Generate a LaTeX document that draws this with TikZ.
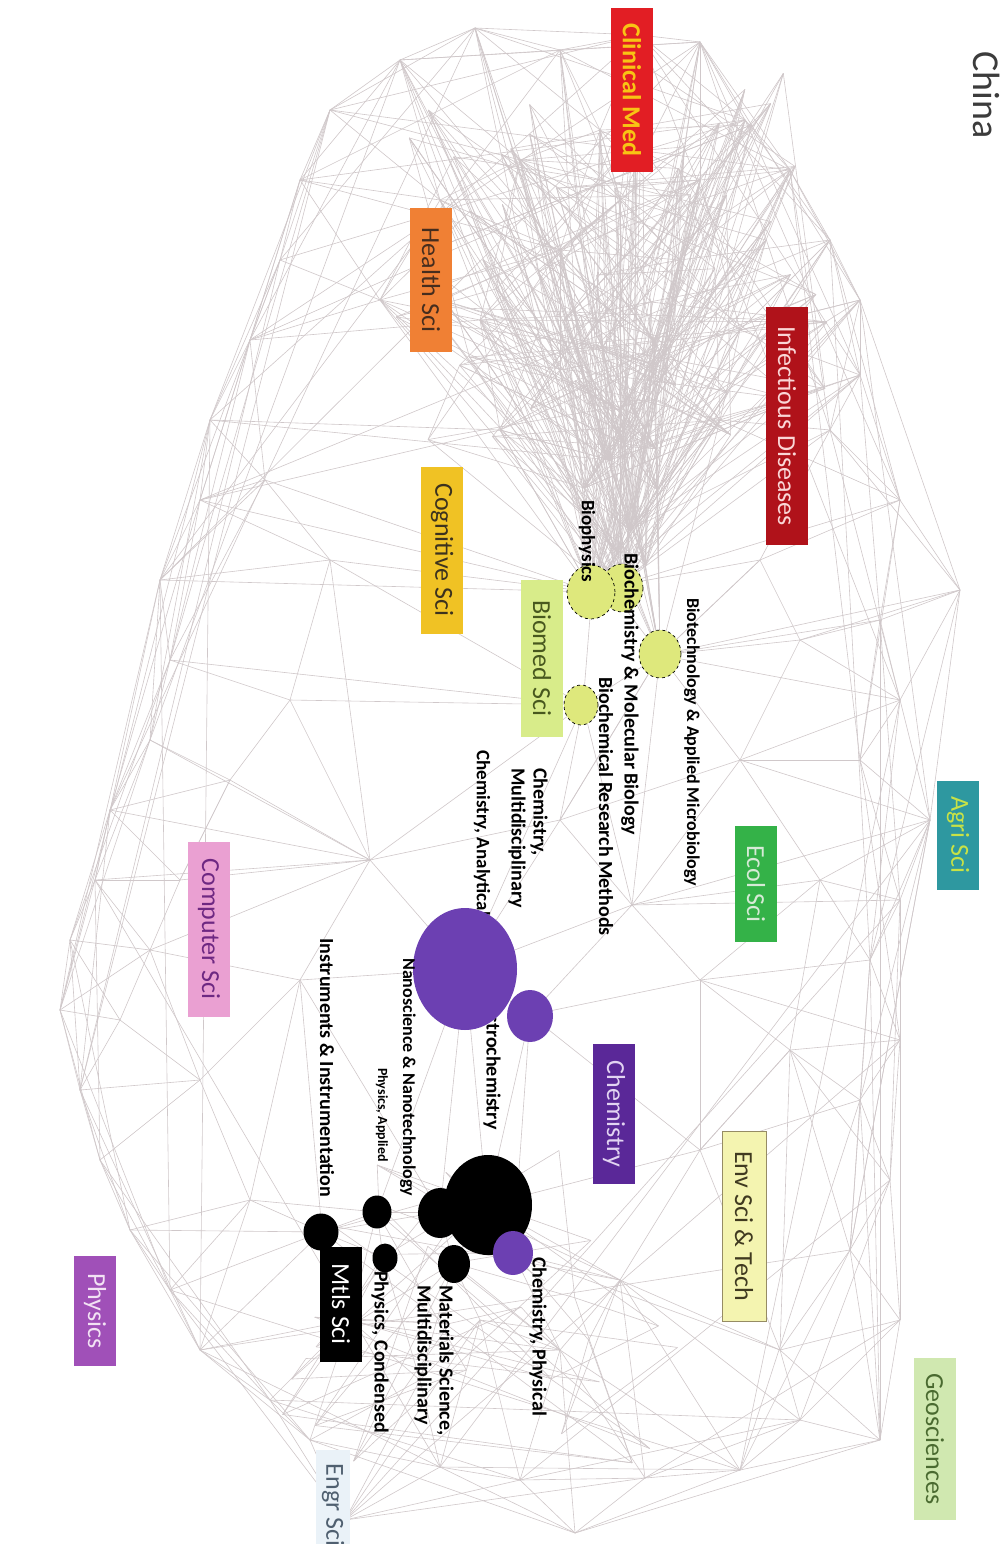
\documentclass[tikz,border=0pt]{standalone}
\usepackage{fontspec}
\setmainfont{Carlito}
\usetikzlibrary{shapes.geometric}

\definecolor{linkgray}{RGB}{208,200,202}
\definecolor{ballgreen}{RGB}{222,232,124}
\definecolor{ballpurple}{RGB}{108,64,178}

\tikzset{
  link/.style={draw=linkgray, line width=0.6pt},
  catbox/.style={rotate=-90, inner sep=0pt, minimum height=42pt, font=\fontsize{26}{28}\selectfont},
  sublabel/.style={rotate=-90, anchor=west, inner sep=0pt, align=left, font=\bfseries\fontsize{19}{21}\selectfont},
  greenball/.style={ellipse, draw=black, dashed, line width=0.7pt, fill=ballgreen, inner sep=0pt},
  purpleball/.style={ellipse, fill=ballpurple, inner sep=0pt},
  blackball/.style={ellipse, fill=black, inner sep=0pt}
}

\begin{document}
\begin{tikzpicture}[x=1pt,y=-1pt]
\useasboundingbox (0,0) rectangle (1006,1544);
\fill[white] (0,0) rectangle (1006,1544);

% outer ring of the map
\foreach \x/\y [count=\i] in {330/110,400/60,475/28,560/50,640/35,700/42,745/120,790/170,830/240,860/300,
  860/375,830/430,900/500,960/590,880/620,900/700,860/760,930/820,900/900,870/960,
  900/1040,860/1100,890/1180,850/1250,900/1320,880/1440,800/1420,740/1470,645/1478,575/1533,
  520/1480,440/1467,345/1520,310/1440,270/1400,200/1350,170/1290,130/1230,100/1160,80/1090,
  60/1010,70/940,95/880,110/810,150/740,170/660,160/580,200/500,210/420,250/340,
  280/260,300/180}
  \coordinate (r\i) at (\x,\y);

% inner hubs
\foreach \n/\x/\y in {u1/560/250,u2/620/200,u3/680/260,u4/520/160,u5/600/130,u6/700/180,u7/660/350,
  u8/560/370,u9/480/320,u10/720/420,u11/500/430,u12/440/200,u13/380/300,u14/740/330,
  bA/592/592,bB/620/585,bC/660/655,bD/583/705,bE/630/530,bF/610/460,bG/645/470,bH/600/520,
  l1/265/480,l2/330/560,l3/370/860,l4/290/700,l5/230/780,l6/150/950,l7/120/1020,l8/200/1080,
  l9/300/980,l10/250/1200,l11/180/880,
  c1/465/969,c2/530/1015,c3/632/905,c4/700/980,c5/560/820,
  m1/487/1205,m2/440/1212,m3/453/1263,m4/377/1212,m5/383/1257,m6/322/1232,m7/513/1253,
  m8/560/1350,m9/420/1380,m10/620/1280,m11/350/1320,m12/480/1320,
  h1/790/1050,h2/740/760,h3/800/640,h4/700/1150,h5/780/1350,h6/820/880,h7/760/560}
  \coordinate (\n) at (\x,\y);

% scattered points of the biomedical core, the upper mass and the materials mass
\pgfmathsetseed{5}
\foreach \t in {1,...,14}{
  \pgfmathsetmacro\px{575+115*rnd}
  \pgfmathsetmacro\py{330+270*rnd}
  \coordinate (co\t) at (\px,\py);
}
\foreach \t in {1,...,60}{
  \pgfmathsetmacro\px{390+440*rnd}
  \pgfmathsetmacro\py{60+380*rnd}
  \coordinate (up\t) at (\px,\py);
}
\foreach \t in {1,...,30}{
  \pgfmathsetmacro\px{260+440*rnd}
  \pgfmathsetmacro\py{1150+330*rnd}
  \coordinate (lo\t) at (\px,\py);
}

% links
\foreach \i in {1,...,52}{
  \foreach \k in {1,2,4}{
    \pgfmathtruncatemacro\j{mod(\i+\k-1,52)+1}
    \draw[link] (r\i) -- (r\j);
  }
}
\pgfmathsetseed{11}
\foreach \t in {1,...,40}{
  \pgfmathtruncatemacro\a{random(1,52)}
  \pgfmathtruncatemacro\b{mod(\a+random(6,14)-1,52)+1}
  \draw[link] (r\a) -- (r\b);
}
\foreach \a in {u1,u2,u3,u4,u5,u6,u7,u8,u9,u10,u11,u12,u13,u14,r2,r3,r4,r5,r6,r7,r8,r9,r10,r11}
  \foreach \b in {bA,bB,bE,bF}
    \draw[link] (\a) -- (\b);
\foreach \t in {1,...,60}{
  \pgfmathtruncatemacro\s{random(1,60)}
  \pgfmathtruncatemacro\v{random(1,14)}
  \pgfmathtruncatemacro\p{random(1,14)}
  \pgfmathtruncatemacro\q{random(1,14)}
  \pgfmathtruncatemacro\w{random(1,14)}
  \draw[link] (up\t) -- (co\p);
  \draw[link] (up\t) -- (co\q);
  \draw[link] (up\t) -- (co\w);
  \draw[link] (up\t) -- (up\s);
  \draw[link] (up\t) -- (u\v);
}
\foreach \t in {1,...,14}{
  \pgfmathtruncatemacro\s{random(1,14)}
  \draw[link] (co\t) -- (co\s);
  \draw[link] (co\t) -- (bA);
  \draw[link] (co\t) -- (bC);
}
\foreach \t in {1,...,30}{
  \pgfmathtruncatemacro\s{random(1,30)}
  \pgfmathtruncatemacro\v{random(1,12)}
  \draw[link] (lo\t) -- (m\v);
  \draw[link] (lo\t) -- (lo\s);
}
\foreach \a/\b in {u1/u2,u1/u3,u2/u3,u1/u4,u4/u5,u5/u2,u5/u6,u6/u3,u3/u7,u7/u8,u8/u1,u8/u9,u9/u13,
  u13/u12,u12/u4,u9/u11,u11/u8,u7/u10,u10/u14,u14/u6,u14/u3,u12/u1,u13/u1,u9/u2,u6/u7,u5/u1,u4/u9,
  u4/r1,u4/r2,u4/r3,u5/r3,u5/r4,u5/r5,u6/r6,u6/r7,u6/r8,u2/r4,u2/r6,u3/r8,u3/r9,u14/r9,u14/r10,
  u14/r11,u10/r11,u10/r12,u10/r13,u12/r1,u12/r2,u12/r52,u13/r51,u13/r50,u13/r52,u9/r50,u11/r49,
  u11/r48,u7/r10,u1/r2,u2/r5,u3/r7,u1/r52,
  bA/l1,bA/l2,bA/r48,bA/r47,bB/h7,bB/r13,bC/h7,bC/h3,bC/r14,bC/r15,bC/c5,bD/c5,bD/c3,bD/c1,bD/l3,
  bD/l2,bD/r46,bE/r12,bE/u10,bF/u11,bF/r49,bC/h2,bC/r16,bA/u11,bD/l4,bB/r12,bC/u10,bD/bA,bD/bC,
  l1/r47,l1/r48,l1/r49,l1/r50,l1/l2,l2/l4,l4/l5,l5/r44,l5/r45,l4/r46,l1/r46,l2/r47,l3/l4,l3/l2,
  l3/l5,l3/l11,l3/l9,l3/c1,l3/c5,l3/r44,l3/r43,l3/l6,l11/r43,l11/r44,l11/l6,l6/r42,l6/r41,l6/l7,
  l7/r40,l7/r41,l7/l8,l8/r39,l8/l10,l8/l9,l9/l6,l9/c1,l9/m6,l10/r37,l10/r38,l10/m6,l10/r36,l11/l5,
  l6/r43,l7/r42,l8/r40,l6/l8,l9/l10,l5/l11,l2/r48,l3/r45,
  c1/c2,c1/c3,c1/c5,c2/c3,c2/c4,c3/c4,c3/c5,c3/h2,c3/h6,c3/r18,c3/r19,c4/h1,c4/h6,c4/r20,c4/r21,
  c5/h2,c1/m1,c2/m1,c2/h4,c1/m2,c4/h4,h4/m10,h4/h1,c3/bC,c5/bC,c2/m7,c1/m4,
  m1/m2,m1/m3,m1/m7,m2/m3,m2/m4,m4/m5,m5/m6,m6/m4,m3/m12,m12/m9,m9/m11,m11/m6,m11/r35,m11/r34,
  m9/r32,m9/r33,m12/r31,m12/r32,m8/r30,m8/r29,m8/r31,m8/m12,m8/m10,m10/r28,m10/r27,m10/h5,m7/m10,
  m7/m8,m5/m11,m5/m9,m3/m8,m6/r36,m6/r37,m4/m11,m3/m9,m1/m10,m1/h4,m2/m6,m12/r33,m9/r34,m7/h5,
  m8/r28,m10/r29,m11/r36,m6/r38,m4/l10,m2/l9,
  h1/r21,h1/r22,h1/r23,h1/h6,h1/h4,h1/h5,h5/r24,h5/r25,h5/r26,h5/r27,h6/r18,h6/r19,h6/r20,h6/h2,
  h2/r16,h2/r17,h2/h3,h3/r14,h3/r15,h3/h7,h7/r12,h7/r13,h7/bC,h4/r22,h4/h5,h1/r24,h2/r18,h3/r16}
  \draw[link] (\a) -- (\b);

% field boxes
\node[catbox, minimum width=164pt, fill={rgb,255:red,226;green,30;blue,36}, text={rgb,255:red,248;green,196;blue,20}, font=\bfseries\fontsize{26}{28}\selectfont] (clinmed) at (632,90) {Clinical Med};
\node[catbox, minimum width=144pt, fill={rgb,255:red,240;green,128;blue,52}, text={rgb,255:red,70;green,45;blue,30}] (healthsci) at (431,280) {Health Sci};
\node[catbox, minimum width=238pt, fill={rgb,255:red,176;green,18;blue,26}, text={rgb,255:red,250;green,214;blue,214}] (infect) at (787,426) {Infectious Diseases};
\node[catbox, minimum width=167pt, fill={rgb,255:red,240;green,194;blue,36}, text={rgb,255:red,60;green,50;blue,30}] (cogsci) at (442,550) {Cognitive Sci};
\node[catbox, minimum width=157pt, fill={rgb,255:red,216;green,236;blue,138}, text={rgb,255:red,72;green,88;blue,30}] (biomed) at (542,658) {Biomed Sci};
\node[catbox, minimum width=116pt, fill={rgb,255:red,52;green,178;blue,72}, text={rgb,255:red,214;green,234;blue,214}] (ecolsci) at (756,884) {Ecol Sci};
\node[catbox, minimum width=109pt, fill={rgb,255:red,46;green,152;blue,160}, text={rgb,255:red,200;green,226;blue,70}] (agrisci) at (958,835) {Agri Sci};
\node[catbox, minimum width=175pt, fill={rgb,255:red,234;green,160;blue,210}, text={rgb,255:red,110;green,40;blue,130}] (compsci) at (209,929) {Computer Sci};
\node[catbox, minimum width=140pt, fill={rgb,255:red,90;green,40;blue,152}, text={rgb,255:red,226;green,212;blue,242}] (chemistry) at (614,1114) {Chemistry};
\node[catbox, minimum width=190pt, minimum height=44pt, draw={rgb,255:red,150;green,140;blue,100}, fill={rgb,255:red,244;green,244;blue,176}, text={rgb,255:red,64;green,58;blue,32}] (envsci) at (744,1226) {Env Sci \& Tech};
\node[catbox, minimum width=110pt, fill={rgb,255:red,160;green,80;blue,184}, text={rgb,255:red,242;green,226;blue,244}] (physics) at (95,1311) {Physics};
\node[catbox, minimum width=162pt, fill={rgb,255:red,208;green,232;blue,176}, text={rgb,255:red,74;green,106;blue,48}] (geosci) at (935,1439) {Geosciences};
\node[catbox, minimum width=110pt, minimum height=34pt, fill={rgb,255:red,234;green,242;blue,248}, text={rgb,255:red,80;green,96;blue,112}] (engrsci) at (333,1505) {Engr Sci};
\node[rotate=-90, inner sep=0pt, text={rgb,255:red,60;green,60;blue,60}, font=\fontsize{38}{42}\selectfont] (china) at (987,95) {China};

% labels behind the purple balls
\node[sublabel] (lblanalyt) at (482,750) {Chemistry, Analytical};
\node[sublabel, font=\bfseries\fontsize{20}{22}\selectfont] (lblelectro) at (492,990) {Electrochemistry};

% category balls
\node[greenball, minimum width=42pt, minimum height=48pt] (biochem) at (622,588) {};
\node[greenball, minimum width=48pt, minimum height=54pt] (biophys) at (591,592) {};
\node[greenball, minimum width=42pt, minimum height=48pt] (biotech) at (660,654) {};
\node[greenball, minimum width=34pt, minimum height=40pt] (biores) at (581,705) {};
\node[purpleball, minimum width=104pt, minimum height=122pt] (analyt) at (465,969) {};
\node[purpleball, minimum width=46pt, minimum height=52pt] (electro) at (530,1016) {};
\node[blackball, minimum width=88pt, minimum height=100pt] (matsci) at (488,1205) {};
\node[blackball, minimum width=44pt, minimum height=50pt] (nano) at (440,1213) {};
\node[blackball, minimum width=32pt, minimum height=38pt] (matmid) at (454,1264) {};
\node[purpleball, minimum width=40pt, minimum height=44pt] (physchem) at (513,1253) {};
\node[blackball, minimum width=29pt, minimum height=33pt] (physapp) at (377,1212) {};
\node[blackball, minimum width=25pt, minimum height=29pt] (physcond) at (385,1258) {};
\node[blackball, minimum width=35pt, minimum height=37pt] (instr) at (321,1232) {};
\node[catbox, minimum width=115pt, fill=black, text=white] (mtlssci) at (341,1304) {Mtls Sci};

% category labels
\node[sublabel] (lblbiophys) at (587,500) {Biophysics};
\node[sublabel, font=\bfseries\fontsize{20}{22}\selectfont] (lblbiochem) at (630,553) {Biochemistry \& Molecular Biology};
\node[sublabel, font=\bfseries\fontsize{18}{20}\selectfont] (lblbiotech) at (692,598) {Biotechnology \& Applied Microbiology};
\node[sublabel, font=\bfseries\fontsize{20}{22}\selectfont] (lblbiores) at (606,677) {Biochemical Research Methods};
\node[sublabel, font=\bfseries\fontsize{20}{22}\selectfont] (lblmulti) at (528,768) {Chemistry,\\Multidisciplinary};
\node[sublabel, font=\bfseries\fontsize{18}{20}\selectfont] (lblnano) at (408,958) {Nanoscience \& Nanotechnology};
\node[sublabel, font=\bfseries\fontsize{20}{22}\selectfont] (lblinstr) at (327,938) {Instruments \& Instrumentation};
\node[sublabel, font=\bfseries\fontsize{14}{16}\selectfont] (lblphysapp) at (382,1068) {Physics, Applied};
\node[sublabel, font=\bfseries\fontsize{20}{22}\selectfont] (lblphyscond) at (380,1271) {Physics, Condensed};
\node[sublabel, font=\bfseries\fontsize{20}{22}\selectfont] (lblmatsci) at (434,1285) {Materials Science,\\Multidisciplinary};
\node[sublabel, font=\bfseries\fontsize{20}{22}\selectfont] (lblphyschem) at (538,1257) {Chemistry, Physical};
\end{tikzpicture}
\end{document}
